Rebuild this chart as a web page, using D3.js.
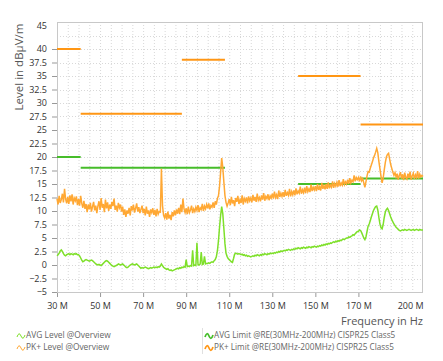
<!DOCTYPE html>
<html><head><meta charset="utf-8">
<script src="https://cdn.jsdelivr.net/npm/d3@7"></script>
<style>body{margin:0;background:#fff;} svg{display:block;font-family:"Open Sans",sans-serif;}</style>
</head><body>
<svg id="c" width="443" height="361"></svg>
<script>
// Frequencies in MHz, 0.5 MHz steps from 30 to 200
const freqStart = 30, freqStep = 0.5;
const pkLevel = [
12.3,11.2,12.8,11.5,12.1,13.2,11.6,14.1,12.2,11.4,
12.6,11.3,12.9,11.8,13.1,11.2,12.4,11.9,12.7,11.1,
12.2,11.0,12.8,11.4,10.6,11.9,10.4,11.3,9.8,11.2,
10.3,11.5,9.9,10.8,11.7,10.1,11.0,9.6,10.9,11.8,
10.2,12.4,10.6,11.3,9.8,12.1,10.5,11.6,10.0,11.2,
10.4,11.7,10.9,12.3,10.2,11.0,9.9,11.5,10.6,11.2,
9.9,10.8,9.3,10.3,8.9,10.1,9.5,10.6,9.2,10.9,
10.1,11.2,9.7,10.5,11.4,9.9,10.7,9.6,10.3,11.0,
9.6,10.4,9.2,10.8,9.5,10.1,8.9,10.3,9.7,10.5,
9.3,10.2,9.0,10.4,9.4,9.9,9.8,17.8,11.0,9.2,
8.7,9.6,8.4,9.9,8.6,9.3,8.3,9.8,9.0,10.1,
9.2,10.3,9.5,10.6,9.4,11.2,9.8,12.3,10.4,9.7,
10.5,9.4,10.8,9.7,10.2,11.0,9.6,10.4,9.9,10.7,
10.1,11.1,9.8,10.6,10.3,11.3,10.0,10.9,10.4,11.2,
10.5,11.4,10.3,11.0,10.7,11.6,10.6,11.8,11.2,12.3,
12.8,14.6,17.2,19.8,18.1,15.4,12.9,11.6,10.9,11.5,
12.2,11.1,12.6,11.4,12.0,10.9,12.4,11.7,12.8,11.3,
12.1,11.5,12.9,11.2,12.3,11.8,12.5,11.4,12.7,11.9,
12.4,11.6,13.0,11.9,12.6,11.7,13.2,12.0,12.5,11.8,
12.9,12.1,13.3,11.9,12.7,12.3,13.1,12.0,12.8,12.4,
13.2,12.3,13.6,12.5,13.0,12.2,13.8,12.6,13.3,12.7,
13.5,12.6,13.9,12.8,13.4,12.9,14.1,12.7,13.6,13.0,
13.8,12.9,14.2,13.1,13.7,13.3,14.5,13.2,13.9,13.4,
14.3,13.3,14.6,13.6,14.1,13.5,14.9,13.7,14.4,13.9,
14.6,13.7,15.0,13.9,14.5,13.8,15.2,14.1,14.7,14.0,
15.0,14.1,15.3,14.2,14.8,14.4,15.5,14.3,15.1,14.6,
15.3,14.5,15.7,14.6,15.2,14.8,15.9,14.9,15.4,15.0,
15.8,15.0,16.1,15.2,15.7,15.4,16.6,15.5,16.2,15.8,
16.2,15.5,16.4,15.6,16.0,15.2,14.4,15.4,16.5,17.3,
17.2,17.9,18.5,19.1,19.8,20.3,20.9,21.6,20.8,19.2,
17.8,16.4,15.2,16.1,17.6,19.0,20.0,20.5,20.7,19.6,
18.6,17.9,17.2,16.6,17.1,16.3,16.9,15.8,16.6,17.2,
16.0,16.8,15.7,17.1,16.2,15.9,16.9,16.1,17.3,15.8,
16.5,17.0,15.9,16.7,16.2,17.4,16.0,16.8,16.3,16.6,
16.4];
const avgLevel = [
1.7,1.9,2.2,2.6,2.8,2.5,2.1,1.8,1.7,1.9,
2.0,2.1,1.9,2.1,2.0,1.9,2.1,2.0,2.1,1.9,
1.9,1.7,1.3,0.9,0.6,0.7,0.9,1.0,0.9,0.8,
0.7,0.8,0.9,0.8,0.6,0.4,0.2,0.1,0.0,0.1,
0.0,-0.1,0.1,0.3,0.5,0.7,0.8,0.7,0.5,0.3,
0.1,-0.1,-0.2,-0.3,-0.2,-0.1,0.0,0.2,0.1,0.0,
0.1,0.2,0.0,-0.2,-0.4,-0.5,-0.4,-0.2,0.0,0.1,
0.2,0.1,0.0,0.1,0.2,0.0,-0.2,-0.4,-0.6,-0.5,
-0.6,-0.5,-0.4,-0.5,-0.6,-0.7,-0.6,-0.5,-0.6,-0.5,
-0.4,-0.5,-0.4,-0.5,-0.3,-0.4,-0.2,0.2,-0.1,-0.4,
-0.6,-0.7,-0.8,-0.7,-0.9,-1.0,-0.9,-1.1,-1.0,-0.9,
-0.8,-0.7,-0.6,-0.7,-0.5,-0.6,-0.4,-0.5,-0.3,-0.4,
1.0,-0.3,-0.2,-0.3,-0.1,-0.2,2.7,-0.1,0.0,-0.1,
4.1,0.1,0.0,0.2,2.4,0.1,0.2,1.6,0.2,0.3,
0.3,0.4,0.3,0.5,0.6,0.5,0.8,1.0,1.5,2.6,
4.5,7.0,9.2,10.8,9.5,6.8,4.0,2.2,1.6,1.2,
1.0,0.8,0.6,0.5,1.2,2.0,2.2,2.1,2.0,2.1,
2.0,1.9,2.0,1.8,1.9,1.7,1.8,1.6,1.7,1.6,
1.5,1.6,1.7,1.6,1.8,1.7,1.9,1.8,1.7,1.9,
1.8,2.0,1.9,2.1,2.0,1.9,2.1,2.0,2.2,2.1,
2.2,2.1,2.3,2.2,2.4,2.3,2.5,2.4,2.6,2.5,
2.6,2.7,2.6,2.8,2.7,2.9,2.8,2.7,2.9,2.8,
3.0,2.9,3.1,3.0,3.2,3.1,3.0,3.2,3.1,3.3,
3.2,3.1,3.3,3.2,3.4,3.3,3.2,3.4,3.3,3.5,
3.4,3.3,3.5,3.4,3.6,3.5,3.7,3.6,3.8,3.7,
3.9,3.8,4.0,3.9,4.1,4.0,4.2,4.3,4.2,4.4,
4.3,4.5,4.4,4.6,4.5,4.7,4.8,4.7,4.9,5.0,
5.0,5.2,5.1,5.3,5.4,5.6,5.5,5.8,6.0,6.2,
6.2,6.5,6.4,6.0,5.5,5.0,4.7,5.2,6.2,7.2,
7.6,8.2,8.9,9.5,10.1,10.5,10.8,10.9,10.2,8.8,
7.6,6.9,6.7,7.5,8.8,9.8,10.3,10.5,10.1,9.5,
8.9,8.4,8.0,7.6,7.3,7.0,6.8,6.6,6.4,6.3,
6.4,6.5,6.4,6.6,6.5,6.4,6.5,6.6,6.5,6.4,
6.5,6.6,6.4,6.5,6.6,6.5,6.4,6.6,6.5,6.5,
6.5];
// Limit segments: start MHz, end MHz, level
const pkLimitStart = [30, 41, 88, 142, 171];
const pkLimitEnd   = [41, 88, 108, 171, 200];
const pkLimitLevel = [40, 28, 38, 35, 26];
const avgLimitStart = [30, 41, 142, 171];
const avgLimitEnd   = [41, 108, 171, 200];
const avgLimitLevel = [20, 18, 15, 16];
const yTicks = [-5,-2.5,0,2.5,5,7.5,10,12.5,15,17.5,20,22.5,25,27.5,30,32.5,35,37.5,40,45];
const xTicks = [30,50,70,90,110,130,150,170,200];
const legendLeft = ["AVG Level @Overview","PK+ Level @Overview"];
const legendRight = ["AVG Limit @RE(30MHz-200MHz) CISPR25 Class5","PK+ Limit @RE(30MHz-200MHz) CISPR25 Class5"];

const C = {pk:"#ffa834", avg:"#7ee02a", pkLim:"#ff9614", avgLim:"#46bd2a"};
const L=57, R=423, T=22, B=292;
const svg = d3.select("#c");
const x = d3.scaleLinear().domain([30,200]).range([L,R]);
const y = d3.scaleLinear().domain([-5,45]).range([B,T]);

// grid
const g = svg.append("g");
g.selectAll(".vg").data(d3.range(35,200,5)).join("line")
 .attr("x1",d=>x(d)+0.5).attr("x2",d=>x(d)+0.5).attr("y1",T).attr("y2",B)
 .attr("stroke","#d8d8d8").attr("stroke-dasharray","1,2");
g.selectAll(".hg").data(d3.range(-2.5,45,2.5)).join("line")
 .attr("y1",d=>Math.round(y(d))+0.5).attr("y2",d=>Math.round(y(d))+0.5).attr("x1",L).attr("x2",R)
 .attr("stroke","#d8d8d8").attr("stroke-dasharray","1,2");

// axes
const yAxis = svg.append("g").attr("transform",`translate(${L},0)`)
 .call(d3.axisLeft(y).tickValues(yTicks).tickSize(5).tickSizeOuter(0).tickFormat(d=>d3.format("")(d)));
yAxis.select(".domain").remove();
yAxis.selectAll("line").attr("stroke","#999");
yAxis.selectAll("text").attr("font-size",9).attr("fill","#333").attr("font-family","Open Sans").attr("x",-10)
 .attr("dy",d=>d===45?"0.75em":"0.32em");
yAxis.selectAll(".tick").filter(d=>d===45).select("line").remove();

const xAxis = svg.append("g").attr("transform",`translate(0,${B})`)
 .call(d3.axisBottom(x).tickValues(xTicks).tickSize(5).tickSizeOuter(0).tickFormat(d=>d+" M"));
xAxis.select(".domain").remove();
xAxis.selectAll("line").attr("stroke","#999");
xAxis.selectAll("text").attr("font-size",9).attr("fill","#333").attr("font-family","Open Sans").attr("dy","0.95em")
 .attr("text-anchor",d=>d===200?"end":"middle");
xAxis.selectAll(".tick").filter(d=>d===200).select("line").remove();

// frame
svg.append("rect").attr("x",L+0.5).attr("y",T+0.5).attr("width",R-L-1).attr("height",B-T)
 .attr("fill","none").attr("stroke","#c8c8c8");

// limits
function seg(starts,ends,levels,color){
  svg.append("g").selectAll("line").data(starts.map((s,i)=>({s,e:ends[i],v:levels[i]}))).join("line")
   .attr("x1",d=>x(d.s)).attr("x2",d=>x(d.e)).attr("y1",d=>y(d.v)).attr("y2",d=>y(d.v))
   .attr("stroke",color).attr("stroke-width",2);
}
seg(avgLimitStart,avgLimitEnd,avgLimitLevel,C.avgLim);
seg(pkLimitStart,pkLimitEnd,pkLimitLevel,C.pkLim);

// data
const line = d3.line().x((d,i)=>x(freqStart+i*freqStep)).y(d=>y(d));
svg.append("path").datum(avgLevel).attr("d",line).attr("fill","none").attr("stroke",C.avg).attr("stroke-width",1.5);
svg.append("path").datum(pkLevel).attr("d",line).attr("fill","none").attr("stroke",C.pk).attr("stroke-width",1.5);

// axis titles
svg.append("text").attr("transform","translate(23,67) rotate(-90)").attr("text-anchor","middle")
 .attr("font-size",11.5).attr("fill","#555").text("Level in  dBµV/m");
svg.append("text").attr("x",R).attr("y",325).attr("text-anchor","end")
 .attr("font-size",11).attr("fill","#555").text("Frequency in Hz");

// legend
function icon(x0,y0,color,w){
  svg.append("path").attr("d",`M${x0},${y0} q2,-6 4,-1 t4,-1`).attr("fill","none").attr("stroke",color).attr("stroke-width",w);
}
const rows=[338,350];
[C.avg,C.pk].forEach((c,i)=>{icon(17,rows[i]-1,c,1);
  svg.append("text").attr("x",26).attr("y",rows[i]).attr("font-size",8.4).attr("fill","#666").text(legendLeft[i]);});
[C.avgLim,C.pkLim].forEach((c,i)=>{icon(205,rows[i]-1,c,1.8);
  svg.append("text").attr("x",214).attr("y",rows[i]).attr("font-size",8.2).attr("fill","#666").text(legendRight[i]);});
svg.append("line").attr("x1",202.5).attr("x2",202.5).attr("y1",328).attr("y2",354).attr("stroke","#e0e0e0");
</script>
</body></html>
